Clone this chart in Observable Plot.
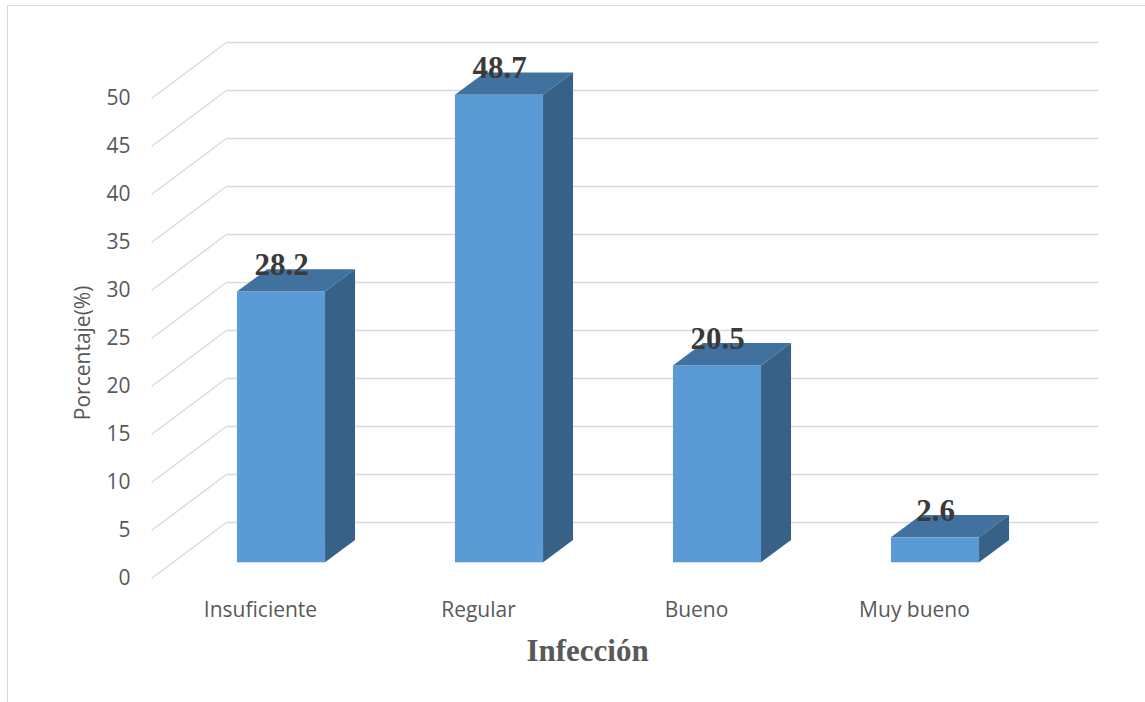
<!DOCTYPE html>
<html>
<head>
<meta charset="utf-8">
<script src="https://cdn.jsdelivr.net/npm/d3@7"></script>
<script src="https://cdn.jsdelivr.net/npm/@observablehq/plot@0.6"></script>
<style>
  html, body { margin: 0; padding: 0; background: #fff; }
  #wrap { position: relative; width: 1145px; height: 702px; overflow: hidden; }
  #border { position: absolute; left: 7px; top: 5px; right: -2px; bottom: -2px;
            border-left: 1.5px solid #d9d9d9; border-top: 1.5px solid #d9d9d9; }
  #chart { position: absolute; left: 0; top: 0; }
</style>
</head>
<body>
<div id="wrap"><div id="border"></div><div id="chart"></div></div>
<script>
// Survey results: rating of "Infección" (percentage of respondents)
const categories = ["Insuficiente", "Regular", "Bueno", "Muy bueno"];
const values = [28.2, 48.7, 20.5, 2.6];
const yTicks = [0, 5, 10, 15, 20, 25, 30, 35, 40, 45, 50];
const yLabel = "Porcentaje(%)";
const xLabel = "Infección";

// Plot geometry
const W = 1145, H = 702;
const xRange = [151, 1023];
const yRange = [578, 98];
const yMax = 50;
// oblique projection of the depth axis, in pixels for a full unit of depth
const depthPx = [75, -56];
const kx = (xRange[1] - xRange[0]) / categories.length;
const ky = (yRange[0] - yRange[1]) / yMax;
const dzx = depthPx[0] / kx;      // depth step in x data units
const dzy = -depthPx[1] / ky;     // depth step in y data units
const zFront = 0.28, zBack = 0.68; // bar depth range
const barW = 0.404;                // bar width as fraction of the band

const bars = categories.map((c, i) => ({
  c, v: values[i],
  xl: i + 0.5 - barW / 2, xr: i + 0.5 + barW / 2, xm: i + 0.5
}));

const topFace = bars.flatMap(b => [zFront, zBack].map(z => ({
  c: b.c, y: b.v + z * dzy, x1: b.xl + z * dzx, x2: b.xr + z * dzx
})));
const sideFace = bars.flatMap(b => [zFront, zBack].map(z => ({
  c: b.c, x: b.xr + z * dzx, y1: z * dzy, y2: b.v + z * dzy
})));

const grid = "#d9d9d9";
const chart = Plot.plot({
  width: W,
  height: H,
  marginLeft: xRange[0],
  marginRight: W - xRange[1],
  marginTop: yRange[1],
  marginBottom: H - yRange[0],
  style: { background: "transparent", overflow: "visible" },
  x: { type: "linear", domain: [0, categories.length], axis: null },
  y: { domain: [0, yMax], axis: null },
  marks: [
    // side wall: diagonals from the front axis to the back wall
    Plot.link(yTicks, { x1: 0, y1: d => d, x2: dzx, y2: d => d + dzy,
      stroke: grid, strokeWidth: 1.4 }),
    // back wall gridlines
    Plot.link(yTicks, { x1: dzx, x2: categories.length + dzx,
      y1: d => d + dzy, y2: d => d + dzy, stroke: grid, strokeWidth: 1.4 }),
    // y tick labels
    Plot.text(yTicks, { x: 0, y: d => d, text: d => String(d), textAnchor: "end",
      dx: -21, fontSize: 21, fill: "#595959", fontFamily: "'Open Sans', sans-serif" }),
    // bars: front, top and side faces
    Plot.rect(bars, { x1: b => b.xl + zFront * dzx, x2: b => b.xr + zFront * dzx,
      y1: zFront * dzy, y2: b => b.v + zFront * dzy, fill: "#5b9bd5" }),
    Plot.areaX(topFace, { x1: "x1", x2: "x2", y: "y", z: "c", fill: "#41719f" }),
    Plot.areaY(sideFace, { x: "x", y1: "y1", y2: "y2", z: "c", fill: "#376187" }),
    // value labels
    Plot.text(bars, { x: b => b.xm + zFront * dzx, y: b => b.v + zFront * dzy,
      text: b => b.v.toFixed(1), lineAnchor: "bottom", dy: -17,
      fontSize: 31, fontWeight: "bold", fill: "#3a3a3a",
      fontFamily: "'Liberation Serif', 'Times New Roman', serif" }),
    // category labels
    Plot.text(bars, { x: "xm", y: 0, text: "c", dy: 32, fontSize: 21,
      fill: "#595959", fontFamily: "'Open Sans', sans-serif" }),
    // axis titles
    Plot.text([yLabel], { x: 0, y: 23.5, text: d => d, rotate: -90,
      dx: -68, fontSize: 21, fill: "#595959", fontFamily: "'Open Sans', sans-serif" }),
    Plot.text([xLabel], { x: categories.length / 2, y: 0, text: d => d, dy: 73,
      fontSize: 31, fontWeight: "bold", fill: "#595959",
      fontFamily: "'Liberation Serif', 'Times New Roman', serif" })
  ]
});
document.getElementById("chart").append(chart);
</script>
</body>
</html>
